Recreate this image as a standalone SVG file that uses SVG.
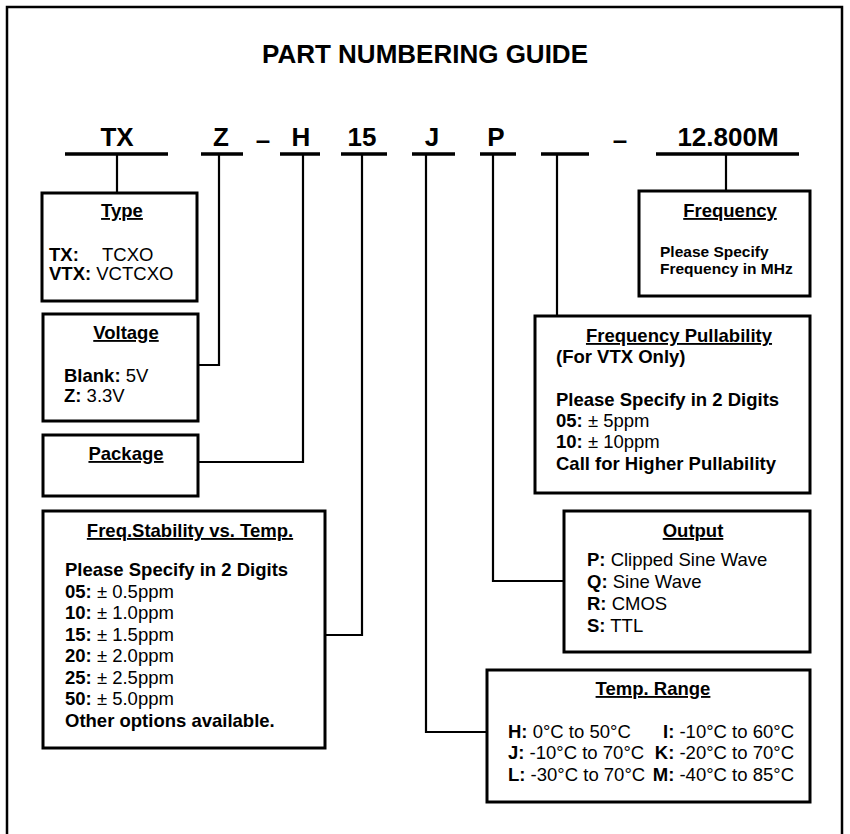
<svg xmlns="http://www.w3.org/2000/svg" width="850" height="834" viewBox="0 0 850 834">
<style>
text{font-family:"Liberation Sans",Arial,sans-serif;fill:#000}
.t{font-size:26px;font-weight:bold;text-anchor:middle}
.c{font-size:26px;font-weight:bold;text-anchor:middle}
.h{font-size:18.5px;font-weight:bold;text-anchor:middle;text-decoration:underline}
.b{font-size:18.5px}
.s{font-size:15.5px;font-weight:bold}
.bb{font-weight:bold}
.box{fill:#fff;stroke:#000;stroke-width:3}
.ul{stroke:#000;stroke-width:3.5;fill:none}
.ln{stroke:#000;stroke-width:2.2;fill:none}
</style>
<rect width="850" height="834" fill="#fff"/>
<path d="M7,834 V7 H842 V834" fill="none" stroke="#000" stroke-width="2.5"/>
<text class="t" x="425" y="63">PART NUMBERING GUIDE</text>
<g id="code">
<text class="c" x="117" y="146">TX</text>
<text class="c" x="221" y="146">Z</text>
<text class="c" x="263" y="149">–</text>
<text class="c" x="301" y="146">H</text>
<text class="c" x="362" y="146">15</text>
<text class="c" x="432" y="146">J</text>
<text class="c" x="496" y="146">P</text>
<text class="c" x="620" y="149">–</text>
<text class="c" x="728" y="146">12.800M</text>
<path class="ul" d="M65,154H168 M201,154H243 M280,154H320 M341,154H387 M412,154H455 M480,154H516 M541,154H589 M656,154H799"/>
</g>
<g id="connectors">
<path class="ln" d="M117,154V193"/>
<path class="ln" d="M219,154V365H198"/>
<path class="ln" d="M303,154V462H198"/>
<path class="ln" d="M362,154V635H325"/>
<path class="ln" d="M426,154V732H487"/>
<path class="ln" d="M493,154V581H564"/>
<path class="ln" d="M557,154V316"/>
<path class="ln" d="M726,154V191"/>
</g>
<g id="type">
<rect class="box" x="42" y="193" width="155" height="108"/>
<text class="h" x="122" y="217">Type</text>
<text class="b" x="49" y="261"><tspan class="bb">TX:</tspan></text>
<text class="b" x="102" y="261">TCXO</text>
<text class="b" x="49" y="280"><tspan class="bb">VTX:</tspan> VCTCXO</text>
</g>
<g id="voltage">
<rect class="box" x="43" y="314" width="155" height="107"/>
<text class="h" x="126" y="339">Voltage</text>
<text class="b" x="64" y="382"><tspan class="bb">Blank:</tspan> 5V</text>
<text class="b" x="64" y="402"><tspan class="bb">Z:</tspan> 3.3V</text>
</g>
<g id="package">
<rect class="box" x="43" y="435" width="155" height="61"/>
<text class="h" x="126" y="460">Package</text>
</g>
<g id="stability">
<rect class="box" x="43" y="511" width="282" height="237"/>
<text class="h" x="190" y="537">Freq.Stability vs. Temp.</text>
<text class="b bb" x="65" y="576">Please Specify in 2 Digits</text>
<text class="b" x="65" y="598"><tspan class="bb">05:</tspan> ± 0.5ppm</text>
<text class="b" x="65" y="619"><tspan class="bb">10:</tspan> ± 1.0ppm</text>
<text class="b" x="65" y="641"><tspan class="bb">15:</tspan> ± 1.5ppm</text>
<text class="b" x="65" y="662"><tspan class="bb">20:</tspan> ± 2.0ppm</text>
<text class="b" x="65" y="684"><tspan class="bb">25:</tspan> ± 2.5ppm</text>
<text class="b" x="65" y="705"><tspan class="bb">50:</tspan> ± 5.0ppm</text>
<text class="b bb" x="65" y="727">Other options available.</text>
</g>
<g id="frequency">
<rect class="box" x="639" y="191" width="171" height="105"/>
<text class="h" x="730" y="217">Frequency</text>
<text class="s" x="660" y="257">Please Specify</text>
<text class="s" x="660" y="274">Frequency in MHz</text>
</g>
<g id="pullability">
<rect class="box" x="535" y="316" width="275" height="177"/>
<text class="h" x="679" y="342">Frequency Pullability</text>
<text class="b bb" x="556" y="363">(For VTX Only)</text>
<text class="b bb" x="556" y="406">Please Specify in 2 Digits</text>
<text class="b" x="556" y="427"><tspan class="bb">05:</tspan> ± 5ppm</text>
<text class="b" x="556" y="448"><tspan class="bb">10:</tspan> ± 10ppm</text>
<text class="b bb" x="556" y="470">Call for Higher Pullability</text>
</g>
<g id="output">
<rect class="box" x="564" y="511" width="246" height="141"/>
<text class="h" x="693" y="537">Output</text>
<text class="b" x="587" y="566"><tspan class="bb">P:</tspan> Clipped Sine Wave</text>
<text class="b" x="587" y="588"><tspan class="bb">Q:</tspan> Sine Wave</text>
<text class="b" x="587" y="610"><tspan class="bb">R:</tspan> CMOS</text>
<text class="b" x="587" y="632"><tspan class="bb">S:</tspan> TTL</text>
</g>
<g id="temprange">
<rect class="box" x="487" y="670" width="323" height="132"/>
<text class="h" x="653" y="695">Temp. Range</text>
<text class="b" x="508" y="738"><tspan class="bb">H:</tspan> 0°C to 50°C</text>
<text class="b" x="508" y="759"><tspan class="bb">J:</tspan> -10°C to 70°C</text>
<text class="b" x="508" y="781"><tspan class="bb">L:</tspan> -30°C to 70°C</text>
<text class="b" x="794" y="738" text-anchor="end"><tspan class="bb">I:</tspan> -10°C to 60°C</text>
<text class="b" x="794" y="759" text-anchor="end"><tspan class="bb">K:</tspan> -20°C to 70°C</text>
<text class="b" x="794" y="781" text-anchor="end"><tspan class="bb">M:</tspan> -40°C to 85°C</text>
</g>
</svg>
